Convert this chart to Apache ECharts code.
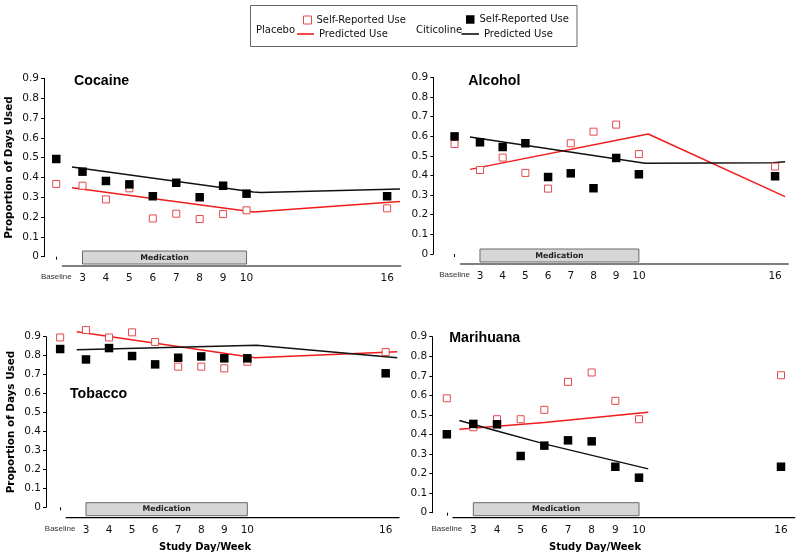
<!DOCTYPE html>
<html><head><meta charset="utf-8">
<script src="https://cdn.jsdelivr.net/npm/echarts@6/dist/echarts.min.js"></script>
<style>html,body{margin:0;padding:0;background:#fff}#c{width:800px;height:559px}</style>
</head><body><div id="c"></div>
<script>
// ---- data ----
const weekPos = [1.88, 3, 4, 5, 6, 7, 8, 9, 10, 16];
const weekLabels = ['Baseline', '3', '4', '5', '6', '7', '8', '9', '10', '16'];
const medicationWeeks = [3, 10];

const cocainePlacebo    = [0.367, 0.358, 0.289, 0.345, 0.193, 0.217, 0.190, 0.215, 0.234, 0.244];
const cocaineCiticoline = [0.493, 0.429, 0.382, 0.365, 0.305, 0.373, 0.300, 0.358, 0.318, 0.305];
const cocainePlaceboPred    = [[2.55, 0.348], [10.3, 0.225], [16.55, 0.278]];
const cocaineCiticolinePred = [[2.55, 0.4525], [10.3, 0.326], [10.6, 0.324], [16.55, 0.3415]];

const alcoholPlacebo    = [0.560, 0.428, 0.491, 0.413, 0.333, 0.564, 0.623, 0.659, 0.509, 0.445];
const alcoholCiticoline = [0.599, 0.569, 0.545, 0.564, 0.392, 0.411, 0.335, 0.489, 0.406, 0.396];
const alcoholPlaceboPred    = [[2.56, 0.431], [10.41, 0.611], [16.44, 0.292]];
const alcoholCiticolinePred = [[2.56, 0.596], [10.27, 0.462], [15.9, 0.465], [16.44, 0.47]];

const tobaccoPlacebo    = [0.896, 0.935, 0.896, 0.923, 0.872, 0.742, 0.742, 0.733, 0.768, 0.819];
const tobaccoCiticoline = [0.835, 0.780, 0.840, 0.798, 0.754, 0.789, 0.796, 0.786, 0.786, 0.707];
const tobaccoPlaceboPred    = [[2.6, 0.926], [10.33, 0.789], [16.5, 0.821]];
const tobaccoCiticolinePred = [[2.6, 0.831], [10.4, 0.855], [16.5, 0.789]];

const marihuanaPlacebo    = [0.585, 0.437, 0.478, 0.478, 0.526, 0.669, 0.717, 0.572, 0.478, 0.703];
const marihuanaCiticoline = [0.401, 0.454, 0.452, 0.290, 0.343, 0.370, 0.365, 0.235, 0.179, 0.235];
const marihuanaPlaceboPred    = [[2.41, 0.427], [6.0, 0.461], [10.39, 0.514]];
const marihuanaCiticolinePred = [[2.41, 0.471], [4.0, 0.418], [6.0, 0.352], [10.39, 0.224]];

// ---- layout ----
const RED_LINE = '#f01c1c', RED_SQ = '#e5484d', BLACK = '#000';
const FONT = 'DejaVu Sans';
const X_MIN = 1.6, X_MAX = 16.6, AXIS_LINE_START = 2.12;

const panels = [
  { title: 'Cocaine', pl: cocainePlacebo, ci: cocaineCiticoline, plPred: cocainePlaceboPred, ciPred: cocaineCiticolinePred,
    grid: { left: 49.7, top: 78.3, width: 351.5, height: 178.4 }, yAxisX: 44, lineOff: 9.3, titlePos: [74, 81.3], yName: true },
  { title: 'Alcohol', pl: alcoholPlacebo, ci: alcoholCiticoline, plPred: alcoholPlaceboPred, ciPred: alcoholCiticolinePred,
    grid: { left: 448.2, top: 77.3, width: 340.5, height: 176.7 }, yAxisX: 433.3, lineOff: 10, titlePos: [468.3, 81.3], yName: false },
  { title: 'Tobacco', pl: tobaccoPlacebo, ci: tobaccoCiticoline, plPred: tobaccoPlaceboPred, ciPred: tobaccoCiticolinePred,
    grid: { left: 53.7, top: 336.7, width: 345.8, height: 170.6 }, yAxisX: 46, lineOff: 10.4, titlePos: [70, 394.3], yName: true },
  { title: 'Marihuana', pl: marihuanaPlacebo, ci: marihuanaCiticoline, plPred: marihuanaPlaceboPred, ciPred: marihuanaCiticolinePred,
    grid: { left: 440.2, top: 336.7, width: 355, height: 176 }, yAxisX: 432.3, lineOff: 5, titlePos: [449.3, 337.7], yName: false }
];

const grids = [], xAxes = [], yAxes = [], series = [];
panels.forEach((p, i) => {
  grids.push(Object.assign({ containLabel: false }, p.grid));
  xAxes.push({
    type: 'value', gridIndex: i, min: X_MIN, max: X_MAX, offset: p.lineOff,
    axisLine: { show: false }, splitLine: { show: false },
    axisTick: { show: true, customValues: [weekPos[0]], length: 3, lineStyle: { color: '#000' } },
    axisLabel: {
      customValues: weekPos, margin: 7, fontSize: 10.5, fontFamily: FONT, color: '#111',
      formatter: v => { const k = weekPos.indexOf(v); return k === 0 ? '{b|' + weekLabels[0] + '}' : weekLabels[k]; },
      rich: { b: { fontSize: 8, fontFamily: 'Liberation Sans', color: '#333' } }
    }
  });
  yAxes.push({
    type: 'value', gridIndex: i, min: 0, max: 0.9, interval: 0.1, offset: p.grid.left - p.yAxisX,
    splitLine: { show: false },
    axisLine: { show: true, lineStyle: { color: '#000', width: 1 } },
    axisTick: { show: true, inside: false, length: 3, lineStyle: { color: '#000' } },
    axisLabel: { margin: 5, fontSize: 10.5, fontFamily: FONT, color: '#111',
      formatter: v => v === 0 ? '0' : v.toFixed(1) },
    name: p.yName ? 'Proportion of Days Used' : '', nameLocation: 'middle', nameRotate: 90, nameGap: 30,
    nameTextStyle: { fontFamily: FONT, fontWeight: 'bold', fontSize: 10.4, color: '#000' }
  });
  const lineOff = p.lineOff;
  series.push({
    type: 'custom', xAxisIndex: i, yAxisIndex: i, silent: true, clip: false, z: 1,
    data: [medicationWeeks],
    encode: { x: [0, 1] },
    renderItem: (params, api) => {
      const a = api.coord([api.value(0), 0]);
      const b = api.coord([api.value(1), 0]);
      const l0 = api.coord([AXIS_LINE_START, 0]);
      const l1 = api.coord([X_MAX, 0]);
      const yl = a[1] + lineOff;
      return { type: 'group', children: [
        { type: 'line', shape: { x1: l0[0], y1: yl, x2: l1[0], y2: yl }, style: { stroke: '#000', lineWidth: 1.2 } },
        { type: 'rect', shape: { x: a[0], y: yl - 15, width: b[0] - a[0], height: 13 },
          style: { fill: '#d6d6d6', stroke: '#6a6a6a', lineWidth: 1 } },
        { type: 'text', style: { text: 'Medication', x: (a[0] + b[0]) / 2, y: yl - 8.5, align: 'center', verticalAlign: 'middle',
          font: 'bold 7.8px "DejaVu Sans"', fill: '#222' } }
      ]};
    }
  });
  series.push({
    type: 'line', name: 'Placebo Predicted Use', xAxisIndex: i, yAxisIndex: i, data: p.plPred,
    symbol: 'none', clip: false, silent: true, z: 2,
    lineStyle: { color: RED_LINE, width: 1.5 }, itemStyle: { color: RED_LINE }
  });
  series.push({
    type: 'line', name: 'Citicoline Predicted Use', xAxisIndex: i, yAxisIndex: i, data: p.ciPred,
    symbol: 'none', clip: false, silent: true, z: 2,
    lineStyle: { color: '#111', width: 1.5 }, itemStyle: { color: '#111' }
  });
  series.push({
    type: 'scatter', name: 'Placebo Self-Reported Use', xAxisIndex: i, yAxisIndex: i,
    data: weekPos.map((w, k) => [w, p.pl[k]]), symbol: 'rect', symbolSize: 7, clip: false, silent: true, z: 3,
    itemStyle: { color: '#fff', borderColor: RED_SQ, borderWidth: 1, opacity: 1 }
  });
  series.push({
    type: 'scatter', name: 'Citicoline Self-Reported Use', xAxisIndex: i, yAxisIndex: i,
    data: weekPos.map((w, k) => [w, p.ci[k]]), symbol: 'rect', symbolSize: 8.5, clip: false, silent: true, z: 4,
    itemStyle: { color: BLACK, opacity: 1 }
  });
});

const legendText = { fontFamily: FONT, fontSize: 10, color: '#111' };
function legendItem(name, left, top, w, h, style, label) {
  return { data: [{ name: name, icon: 'rect', itemStyle: style }], left: left, top: top, itemWidth: w, itemHeight: h,
    padding: 0, selectedMode: false, textStyle: legendText, formatter: () => label };
}

const graphics = [
  { type: 'rect', shape: { x: 250.5, y: 5.5, width: 326.5, height: 41 }, style: { fill: 'none', stroke: '#666', lineWidth: 1 } },
  { type: 'text', style: { text: 'Placebo', x: 256, y: 30.7, verticalAlign: 'middle', font: '10px "DejaVu Sans"', fill: '#111' } },
  { type: 'text', style: { text: 'Citicoline', x: 416, y: 30.7, verticalAlign: 'middle', font: '10px "DejaVu Sans"', fill: '#111' } },
  { type: 'text', style: { text: 'Study Day/Week', x: 205, y: 547.5, align: 'center', verticalAlign: 'middle', font: 'bold 10px "DejaVu Sans"', fill: '#000' } },
  { type: 'text', style: { text: 'Study Day/Week', x: 595, y: 547.7, align: 'center', verticalAlign: 'middle', font: 'bold 10px "DejaVu Sans"', fill: '#000' } }
];
panels.forEach(p => graphics.push({ type: 'text', style: { text: p.title, x: p.titlePos[0], y: p.titlePos[1], verticalAlign: 'middle',
  font: 'bold 14.2px "Liberation Sans"', fill: '#000' } }));

const chart = echarts.init(document.getElementById('c'), null, { renderer: 'canvas' });
chart.setOption({
  animation: false,
  backgroundColor: '#fff',
  textStyle: { fontFamily: FONT },
  grid: grids, xAxis: xAxes, yAxis: yAxes, series: series,
  legend: [
    legendItem('Placebo Self-Reported Use', 303, 15, 8, 8, { color: '#fff', borderColor: RED_SQ, borderWidth: 1 }, 'Self-Reported Use'),
    legendItem('Placebo Predicted Use', 297, 29, 17, 1.6, { color: RED_LINE }, 'Predicted Use'),
    legendItem('Citicoline Self-Reported Use', 466, 14.5, 8.5, 8.5, { color: BLACK }, 'Self-Reported Use'),
    legendItem('Citicoline Predicted Use', 461.5, 29, 17.5, 1.6, { color: '#111' }, 'Predicted Use')
  ],
  graphic: graphics
});
</script></body></html>
